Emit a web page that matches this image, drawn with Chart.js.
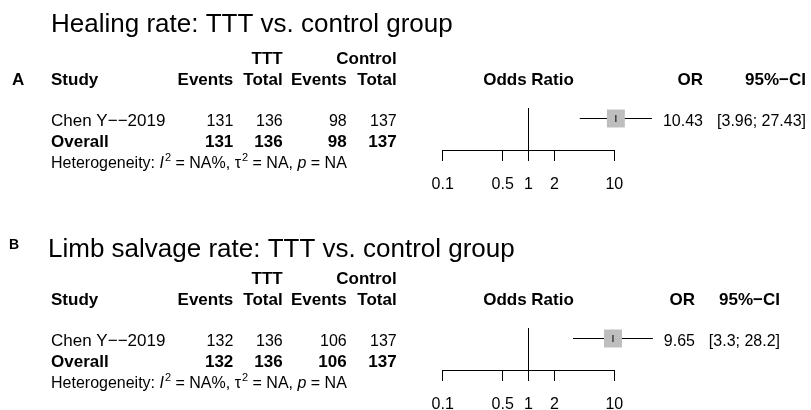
<!DOCTYPE html>
<html>
<head>
<meta charset="utf-8">
<script src="https://cdn.jsdelivr.net/npm/chart.js@4/dist/chart.umd.min.js"></script>
<style>
  html, body { margin: 0; padding: 0; background: #fff; }
  body { width: 811px; height: 410px; overflow: hidden; position: relative; }
  .panel { position: absolute; left: 0; width: 811px; height: 220px; }
</style>
</head>
<body>
<div class="panel" style="top:0"><canvas id="panelA" width="811" height="220"></canvas></div>
<div class="panel" style="top:220px"><canvas id="panelB" width="811" height="220"></canvas></div>
<script>
// ---- data: one single-study meta-analysis per panel ----
const panelLetters = ['A', 'B'];
const panelTitles = [
  'Healing rate: TTT vs. control group',
  'Limb salvage rate: TTT vs. control group'
];
const studyNames = ['Chen Y\u2212\u22122019', 'Chen Y\u2212\u22122019'];
const tttEvents = [131, 132];
const tttTotals = [136, 136];
const ctrlEvents = [98, 106];
const ctrlTotals = [137, 137];
const oddsRatios = [10.43, 9.65];
const ciLower = [3.96, 3.3];
const ciUpper = [27.43, 28.2];
const heterogeneityI2 = ['NA', 'NA'];
const heterogeneityTau2 = ['NA', 'NA'];
const heterogeneityP = ['NA', 'NA'];
const axisTicks = [0.1, 0.5, 1, 2, 10];

// ---- layout ----
const FONT = '"Liberation Sans", Arial, Helvetica, sans-serif';
const BOLD_SIZE = 17;
const AXIS_LEFT = 442.7, AXIS_RIGHT = 614.3;       // pixel span of 0.1 .. 10
const PLOT_TOP = 108;                              // top of the plotting strip
const ROW = { group: -2.4, header: -1.4, study: 0.55, overall: 1.55, het: 2.55 };
const MARK_ROW = 0.5;
const COLS = { study: 51, tttEv: 233.3, tttTot: 282.7, ctrlEv: 346.7, ctrlTot: 396.7 };
const panelLayout = [
  { titleX: 51, titleY: 32.3, letterX: 12, letterY: 85, letterSize: 17, orRight: 703, ciRight: 806 },
  { titleX: 48, titleY: 36.7, letterX: 9, letterY: 29, letterSize: 14, orRight: 695, ciRight: 780 }
];

function put(ctx, s, x, y, align, weight, size, style) {
  const w = weight || 'normal';
  const sz = size || (w === 'bold' ? BOLD_SIZE : 16);
  ctx.font = (style || 'normal') + ' ' + w + ' ' + sz + 'px ' + FONT;
  ctx.textAlign = align || 'left';
  ctx.textBaseline = 'alphabetic';
  ctx.fillStyle = '#000';
  ctx.fillText(s, x, y);
  return ctx.measureText(s).width;
}

// Draws the study table, headers and result column around the plot
const forestText = {
  id: 'forestText',
  afterDraw(chart) {
    const i = chart.options.plugins.forestText.panel;
    const L = panelLayout[i];
    const ctx = chart.ctx;
    const ys = chart.scales.y, xs = chart.scales.x;
    const yb = v => ys.getPixelForValue(v) + 6;
    ctx.save();
    // title and panel letter
    put(ctx, panelTitles[i], L.titleX, L.titleY, 'left', 'normal', 26);
    put(ctx, panelLetters[i], L.letterX, L.letterY, 'left', 'bold', L.letterSize);
    // column headers
    put(ctx, 'TTT', COLS.tttTot, yb(ROW.group), 'right', 'bold');
    put(ctx, 'Control', COLS.ctrlTot, yb(ROW.group), 'right', 'bold');
    put(ctx, 'Study', COLS.study, yb(ROW.header), 'left', 'bold');
    put(ctx, 'Events', COLS.tttEv, yb(ROW.header), 'right', 'bold');
    put(ctx, 'Total', COLS.tttTot, yb(ROW.header), 'right', 'bold');
    put(ctx, 'Events', COLS.ctrlEv, yb(ROW.header), 'right', 'bold');
    put(ctx, 'Total', COLS.ctrlTot, yb(ROW.header), 'right', 'bold');
    put(ctx, 'Odds Ratio', xs.getPixelForValue(1), yb(ROW.header), 'center', 'bold');
    put(ctx, 'OR', L.orRight, yb(ROW.header), 'right', 'bold');
    put(ctx, '95%\u2212CI', L.ciRight, yb(ROW.header), 'right', 'bold');
    // study row
    put(ctx, studyNames[i], COLS.study, yb(ROW.study), 'left', 'normal', 17);
    put(ctx, String(tttEvents[i]), COLS.tttEv, yb(ROW.study), 'right');
    put(ctx, String(tttTotals[i]), COLS.tttTot, yb(ROW.study), 'right');
    put(ctx, String(ctrlEvents[i]), COLS.ctrlEv, yb(ROW.study), 'right');
    put(ctx, String(ctrlTotals[i]), COLS.ctrlTot, yb(ROW.study), 'right');
    put(ctx, String(oddsRatios[i]), L.orRight, yb(ROW.study), 'right');
    put(ctx, '[' + ciLower[i] + '; ' + ciUpper[i] + ']', L.ciRight, yb(ROW.study), 'right');
    // overall row
    put(ctx, 'Overall', COLS.study, yb(ROW.overall), 'left', 'bold');
    put(ctx, String(tttEvents[i]), COLS.tttEv, yb(ROW.overall), 'right', 'bold');
    put(ctx, String(tttTotals[i]), COLS.tttTot, yb(ROW.overall), 'right', 'bold');
    put(ctx, String(ctrlEvents[i]), COLS.ctrlEv, yb(ROW.overall), 'right', 'bold');
    put(ctx, String(ctrlTotals[i]), COLS.ctrlTot, yb(ROW.overall), 'right', 'bold');
    // heterogeneity line with italic symbols and superscripts
    const pieces = [
      ['Heterogeneity: ', ''], ['I', 'it'], ['2', 'sup'], [' = ' + heterogeneityI2[i] + '%, ', ''],
      ['\u03c4', ''], ['2', 'sup'], [' = ' + heterogeneityTau2[i] + ', ', ''],
      ['p', 'it'], [' = ' + heterogeneityP[i], '']
    ];
    let x = COLS.study;
    const hy = yb(ROW.het);
    pieces.forEach(([s, kind]) => {
      if (kind === 'sup') x += put(ctx, s, x + 1, hy - 7, 'left', 'normal', 11) + 1;
      else if (kind === 'it') x += put(ctx, s, x, hy, 'left', 'normal', 16, 'italic');
      else x += put(ctx, s, x, hy, 'left', 'normal', 16);
    });
    ctx.restore();
  }
};

function buildPanel(canvasId, i) {
  const mark = [{ x: oddsRatios[i], y: MARK_ROW }];
  return new Chart(document.getElementById(canvasId), {
    type: 'line',
    data: {
      datasets: [
        { label: 'estimate', data: mark, showLine: false, clip: false, order: 1,
          pointStyle: 'line', pointRotation: 90, pointRadius: 3.5,
          pointBorderColor: '#000', pointBorderWidth: 1, borderColor: '#000' },
        { label: 'weight', data: mark, showLine: false, clip: false, order: 2,
          pointStyle: 'rect', pointRadius: 12.7, pointBackgroundColor: '#bebebe',
          pointBorderWidth: 0, borderColor: '#bebebe' },
        { label: 'ci', data: [{ x: ciLower[i], y: MARK_ROW }, { x: ciUpper[i], y: MARK_ROW }],
          clip: false, order: 3, borderColor: '#000', borderWidth: 1, pointRadius: 0 },
        { label: 'no effect', data: [{ x: 1, y: 0 }, { x: 1, y: 2 }],
          clip: false, order: 4, borderColor: '#000', borderWidth: 1, pointRadius: 0 }
      ]
    },
    options: {
      responsive: false,
      animation: false,
      devicePixelRatio: 1,
      events: [],
      layout: { padding: { left: AXIS_LEFT, right: 811 - AXIS_RIGHT, top: PLOT_TOP, bottom: 20 } },
      plugins: {
        legend: { display: false },
        tooltip: { enabled: false },
        forestText: { panel: i }
      },
      scales: {
        x: {
          type: 'logarithmic', min: 0.1, max: 10, position: 'bottom',
          afterBuildTicks: s => { s.ticks = axisTicks.map(v => ({ value: v })); },
          afterFit: s => { s.height = 50; },
          grid: { drawOnChartArea: false, drawTicks: true, tickLength: 11, color: '#000', lineWidth: 1 },
          border: { display: true, color: '#000', width: 1 },
          ticks: { color: '#000', font: { family: FONT, size: 16 }, padding: 14,
                   autoSkip: false, maxRotation: 0, callback: v => String(v) }
        },
        y: { type: 'linear', min: 0, max: 2, reverse: true, display: false }
      }
    },
    plugins: [forestText]
  });
}

buildPanel('panelA', 0);
buildPanel('panelB', 1);
</script>
</body>
</html>
